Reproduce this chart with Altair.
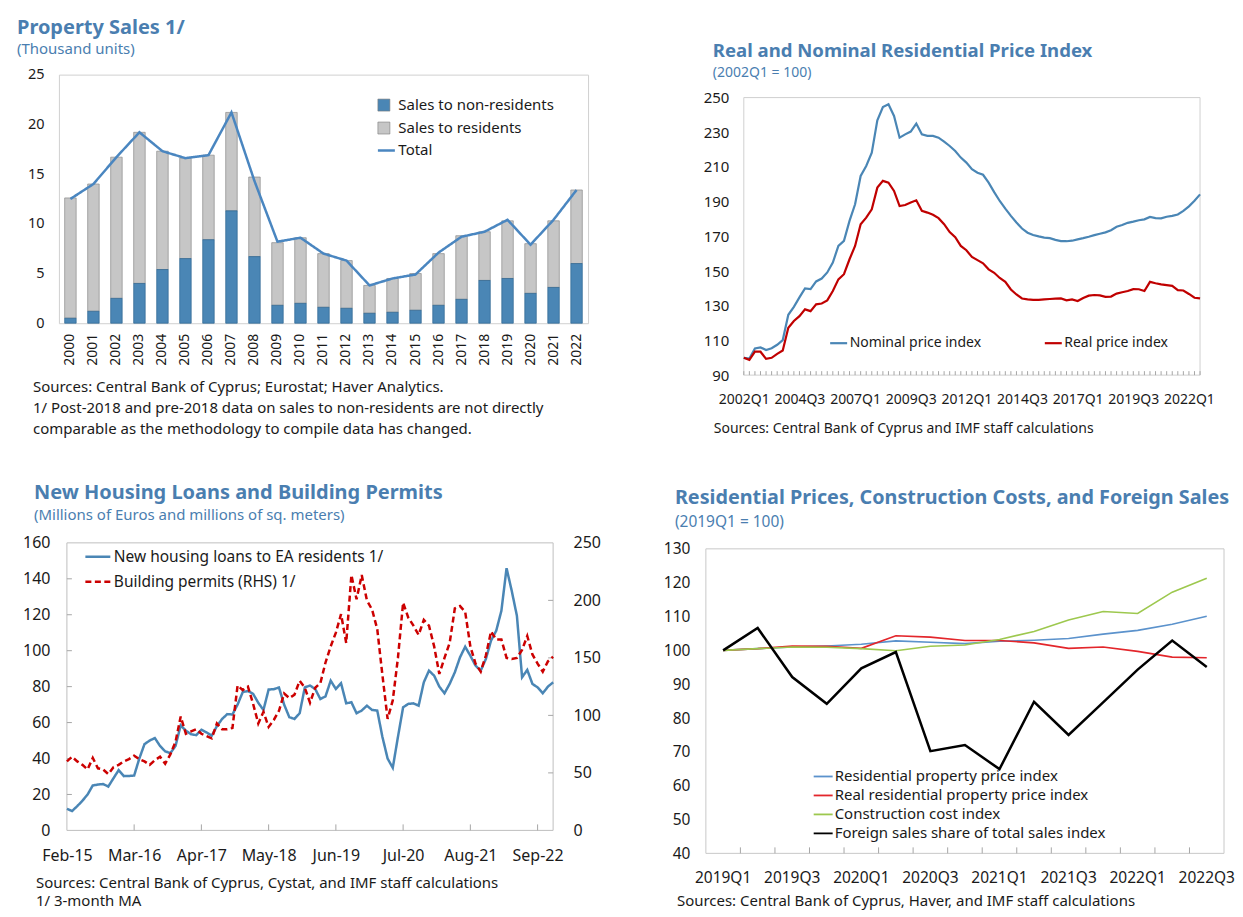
import altair as alt
import pandas as pd

FONT = "Noto Sans"
BLUE_T = "#4a7eb0"
INK = "#1a1a1a"

# ---------------- Panel 1: Property sales ----------------
years = ["2000", "2001", "2002", "2003", "2004", "2005", "2006", "2007", "2008", "2009", "2010",
         "2011", "2012", "2013", "2014", "2015", "2016", "2017", "2018", "2019", "2020", "2021", "2022"]
sales_nonres = [0.5, 1.2, 2.5, 4.0, 5.4, 6.5, 8.4, 11.3, 6.7, 1.8, 2.0, 1.6, 1.5, 1.0, 1.1, 1.3,
                1.8, 2.4, 4.3, 4.5, 3.0, 3.6, 6.0]
sales_res = [12.1, 12.8, 14.2, 15.2, 11.9, 10.1, 8.5, 9.9, 8.0, 6.3, 6.6, 5.4, 4.8, 2.8, 3.4, 3.7,
             5.2, 6.4, 4.9, 5.8, 5.0, 6.7, 7.4]
sales_total = [12.5, 14.0, 16.7, 19.2, 17.3, 16.6, 16.9, 21.2, 14.3, 8.2, 8.6, 7.0, 6.3, 3.8, 4.5,
               4.9, 7.1, 8.7, 9.2, 10.4, 7.9, 10.4, 13.4]

# ---------------- Panel 2: price indices (2002Q1 = 100) ----------------
quarters2 = [f"{y}Q{q}" for y in range(2002, 2023) for q in range(1, 5)][:83]
q2_labels = ["2002Q1", "2004Q3", "2007Q1", "2009Q3", "2012Q1", "2014Q3", "2017Q1", "2019Q3", "2022Q1"]
nominal = [100, 99.6, 105.4, 106, 104.5, 105.5, 107.5, 110.2, 124.8, 129.4,
           134.8, 140, 139.6, 144, 145.7, 149.2, 154.9, 164.5, 167.4, 178.9,
           188.5, 204.8, 210.6, 218.3, 236.9, 244.6, 246.2, 239.4, 226.9, 228.8,
           230.4, 235, 228.8, 227.9, 227.9, 226.9, 224.6, 222.1, 219.2, 215.4,
           212.5, 208.7, 206.7, 205.5, 201, 195.5, 190.4, 186, 181.8, 178,
           174.5, 172.1, 170.8, 170, 169.3, 169, 168, 167.3, 167.2, 167.5,
           168.3, 169, 169.8, 170.7, 171.5, 172.3, 173.5, 175.5, 176.5, 177.8,
           178.5, 179.3, 179.8, 181.2, 180.5, 180.4, 181.3, 181.8, 182.6, 184.7,
           187.3, 190.5, 194.2]
real = [100, 98.8, 103.5, 103.5, 99.4, 100, 102.3, 104.2, 117.3, 121.2,
        124, 127.9, 126.9, 130.8, 131.3, 133.1, 138.5, 145.2, 148.2, 156.8,
        164.5, 177, 180.8, 185.6, 198.1, 202, 201, 196.2, 187.5, 188.1,
        189.5, 190.8, 184.7, 183.7, 182.4, 180.5, 177, 172.5, 169.5, 164.5,
        162, 158.1, 156.3, 154.5, 151, 149, 146, 143.8, 139.4, 136.5,
        134.2, 133.7, 133.4, 133.4, 133.7, 133.9, 134.1, 134.2, 133.1, 133.7,
        132.7, 134.5, 135.8, 136.2, 136, 135.1, 135.3, 137, 137.8, 138.5,
        139.6, 139.5, 138.5, 143.8, 143, 142.3, 141.9, 141.5, 139, 138.8,
        136.8, 134.6, 134.2]

# ---------------- Panel 3: loans and permits (monthly, Feb-15 .. Dec-22) ----------------
_mon = ["Jan", "Feb", "Mar", "Apr", "May", "Jun", "Jul", "Aug", "Sep", "Oct", "Nov", "Dec"]
months3 = []
_y, _m = 2015, 1
for _i in range(95):
    months3.append(f"{_mon[_m]}-{str(_y)[2:]}")
    _m += 1
    if _m == 12:
        _m, _y = 0, _y + 1
m3_labels = ["Feb-15", "Mar-16", "Apr-17", "May-18", "Jun-19", "Jul-20", "Aug-21", "Sep-22"]
loans = [12, 10.8, 13.5, 16.5, 20, 25, 25.5, 25.8, 24.4, 29,
         33.5, 30.2, 30.3, 30.5, 40, 48, 50, 51.4, 47, 44,
         43, 47, 58.5, 55.5, 53.5, 53, 56, 54.5, 52.7, 58,
         62, 64.7, 64.5, 70, 77, 77.5, 76, 71, 67, 78.4,
         78.6, 79.5, 70, 63, 62, 65.2, 79.6, 80.6, 78.7, 73.1,
         74.6, 83.3, 78.7, 81.9, 70.7, 71.3, 65.2, 66.7, 69.4, 67,
         66.7, 52, 40, 34.8, 52, 68.5, 70.4, 70.7, 69.4, 82.4,
         88.9, 86.1, 80, 76.3, 81.5, 88, 96.3, 102.2, 97.2, 91.7,
         88.9, 95.4, 105.6, 111.1, 122.2, 145.9, 133.3, 119.4, 85.2, 89.3,
         81.5, 79.6, 76.3, 80, 82.4]
permits = [60, 64, 60, 57, 53, 63, 54, 53, 49, 55,
           57, 60, 62, 65, 62, 60, 57, 61, 64, 58,
           66, 77, 99, 84, 86, 88, 84, 82, 80, 93,
           88, 88, 89, 126, 122, 125, 110, 93, 103, 90,
           96, 104, 119, 115, 118, 130, 124, 111, 124, 128,
           146, 160, 172, 188, 163, 222, 201, 222, 200, 192,
           175, 135, 97, 113, 150, 198, 185, 178, 170, 183,
           178, 160, 136, 150, 163, 193, 195, 190, 160, 145,
           138, 152, 173, 166, 166, 150, 149, 150, 157, 169,
           153, 145, 138, 147, 151]

# ---------------- Panel 4: prices, costs, foreign sales (2019Q1 = 100) ----------------
quarters4 = ["2019Q1", "2019Q2", "2019Q3", "2019Q4", "2020Q1", "2020Q2", "2020Q3", "2020Q4",
             "2021Q1", "2021Q2", "2021Q3", "2021Q4", "2022Q1", "2022Q2", "2022Q3"]
q4_labels = ["2019Q1", "2019Q3", "2020Q1", "2020Q3", "2021Q1", "2021Q3", "2022Q1", "2022Q3"]
rppi = [100, 100.5, 101, 101.3, 101.8, 102.8, 102.4, 102.0, 102.7, 103.0, 103.5, 104.8, 105.9, 107.7, 110.1]
real_rppi = [100, 100.5, 101.3, 101.2, 100.6, 104.3, 103.9, 102.9, 102.9, 102.2, 100.6, 101.0, 99.7, 98.0, 97.8]
cci = [100, 100.5, 101, 100.9, 100.5, 99.9, 101.2, 101.6, 103.2, 105.6, 109.0, 111.5, 110.9, 117.2, 121.3]
foreign = [100, 106.6, 92.1, 84.2, 94.7, 99.5, 70.2, 72.0, 64.9, 84.8, 75.0, 84.6, 94.3, 102.9, 95.1]


def note(text, x, y, size=15, bold=False, color=INK):
    return alt.Chart(pd.DataFrame({"t": [text]})).mark_text(
        align="left", baseline="alphabetic", font=FONT, fontSize=size,
        fontWeight="bold" if bold else "normal", color=color
    ).encode(text="t:N", x=alt.value(x), y=alt.value(y))


def frame(left, top, right, bottom, w, h):
    # invisible box that fixes each panel's layout extent
    return alt.Chart(pd.DataFrame({"z": [0]})).mark_rect(opacity=0).encode(
        x=alt.value(-left), x2=alt.value(w + right), y=alt.value(-top), y2=alt.value(h + bottom))


def border(x0, x1, y0, y1, color):
    return alt.Chart(pd.DataFrame({"z": [0]})).mark_rect(fill=None, stroke=color, strokeWidth=1).encode(
        x=alt.value(x0), x2=alt.value(x1), y=alt.value(y0), y2=alt.value(y1))


def ax(**kw):
    base = dict(title=None, ticks=False, domain=False, grid=False, labelFont=FONT, labelColor=INK)
    base.update(kw)
    return alt.Axis(**base)


def leg(**kw):
    base = dict(title=None, orient="none", padding=0, labelFont=FONT, labelColor=INK, labelLimit=600)
    base.update(kw)
    return alt.Legend(**base)


NOSTROKE = alt.ViewBackground(stroke=None)

# ---------------- Panel 1 ----------------
W1, H1 = 530, 249
S_NR, S_R = "Sales to non-residents", "Sales to residents"
bars_df = pd.DataFrame({
    "year": years * 2,
    "series": [S_NR] * 23 + [S_R] * 23,
    "lo": [0.0] * 23 + sales_nonres,
    "hi": sales_nonres + [a + b for a, b in zip(sales_nonres, sales_res)],
})
xsc1 = alt.Scale(type="band", paddingInner=0.5, paddingOuter=0.25)
xax1 = ax(labelAngle=-90, labelPadding=10, labelFontSize=14)
ysc1 = alt.Scale(domain=[0, 25], nice=False)
yax1 = ax(values=[0, 5, 10, 15, 20, 25], labelPadding=15, labelFontSize=14.5)
fill1 = alt.Fill("series:N", scale=alt.Scale(domain=[S_NR, S_R], range=["#4a86b5", "#c6c6c6"]),
                 legend=leg(legendX=318, legendY=23, symbolType="square", symbolSize=144,
                            symbolStrokeColor="#7a7a7a", symbolStrokeWidth=0.6,
                            labelFontSize=15, labelOffset=7, rowPadding=7))
b_nr = alt.Chart(bars_df[bars_df.series == S_NR]).mark_bar(stroke="#2d6590", strokeWidth=0.7).encode(
    x=alt.X("year:N", sort=years, scale=xsc1, axis=xax1),
    y=alt.Y("lo:Q", scale=ysc1, axis=yax1), y2=alt.Y2("hi"), fill=fill1)
b_r = alt.Chart(bars_df[bars_df.series == S_R]).mark_bar(stroke="#8a8a8a", strokeWidth=0.7).encode(
    x=alt.X("year:N", sort=years, scale=xsc1, axis=xax1),
    y=alt.Y("lo:Q", scale=ysc1, axis=yax1), y2=alt.Y2("hi"), fill=fill1)
tot_df = pd.DataFrame({"year": years, "v": sales_total, "s": ["Total"] * 23})
line1 = alt.Chart(tot_df).mark_line(color="#4a86c0", strokeWidth=2.5).encode(
    x=alt.X("year:N", sort=years, scale=xsc1, axis=xax1, bandPosition=0.5),
    y=alt.Y("v:Q", scale=ysc1, axis=yax1),
    strokeDash=alt.StrokeDash("s:N", scale=alt.Scale(domain=["Total"], range=[[1, 0]]),
                              legend=leg(legendX=318, legendY=66, symbolType="stroke", symbolSize=289,
                                         symbolStrokeColor="#4a86c0", symbolStrokeWidth=2.5,
                                         labelFontSize=15, labelOffset=2)))
P1 = alt.layer(
    frame(50, 65, 32, 128, W1, H1),
    b_r, b_nr, line1,
    note("Property Sales 1/", -42, -41, 20, True, BLUE_T),
    note("(Thousand units)", -42, -21, 15, False, BLUE_T),
    note("Sources: Central Bank of Cyprus; Eurostat; Haver Analytics.", -26, 318),
    note("1/ Post-2018 and pre-2018 data on sales to non-residents are not directly", -26, 339),
    note("comparable as the methodology to compile data has changed.", -26, 360),
).properties(width=W1, height=H1, view=alt.ViewBackground(stroke="#d0d0d0"))

# ---------------- Panel 2 (group starts 38px left of and 23px above its plot) ----------------
W2, H2 = 495, 301
PX2, PY2 = 38, 23
N2, R2 = "Nominal price index", "Real price index"
df2 = pd.DataFrame({"q": quarters2 * 2, "v": nominal + real, "series": [N2] * 83 + [R2] * 83})
x2 = alt.X("q:N", sort=quarters2, scale=alt.Scale(type="point", padding=0, range=[PX2, W2]),
           axis=ax(values=q2_labels, labelAngle=0, labelPadding=17, labelFontSize=14))
y2 = alt.Y("v:Q", scale=alt.Scale(domain=[90, 250], nice=False, zero=False, range=[H2, PY2]),
           axis=ax(values=list(range(90, 251, 20)), labelPadding=15, labelFontSize=15, offset=-PX2))
lines2 = alt.Chart(df2).mark_line(strokeWidth=2.2).encode(
    x=x2, y=y2,
    color=alt.Color("series:N", scale=alt.Scale(domain=[N2, R2], range=["#4a86b5", "#c00000"]),
                    legend=leg(direction="horizontal", legendX=85 + PX2, legendY=236 + PY2, symbolType="stroke",
                               symbolSize=289, symbolStrokeWidth=2.2, labelFontSize=14, labelOffset=1,
                               columnPadding=59)))
ticks2 = alt.Chart(pd.DataFrame({"q": quarters2})).mark_rule(color="#a6a6a6", strokeWidth=1).encode(
    x=x2, y=alt.value(H2), y2=alt.value(H2 - 4))
P2 = alt.layer(
    frame(85, 65, 35, 76, W2, H2),
    border(PX2, W2, PY2, H2, "#d0d0d0"),
    ticks2, lines2,
    note("Real and Nominal Residential Price Index", 7, -18, 18.6, True, BLUE_T),
    note("(2002Q1 = 100)", 7, 2, 14, False, BLUE_T),
    note("Sources: Central Bank of Cyprus and IMF staff calculations", 8, 359, 14),
).properties(width=W2, height=H2, view=NOSTROKE)

# ---------------- Panel 3 (group starts 8px left of its plot) ----------------
W3, H3 = 495, 288
PX3 = 8
L3, R3 = "New housing loans to EA residents 1/", "Building permits (RHS) 1/"
x3 = alt.X("m:N", sort=months3, scale=alt.Scale(type="point", padding=0, range=[PX3, W3]),
           axis=ax(values=m3_labels, labelAngle=0, labelPadding=17.5, labelFontSize=16))
yL = alt.Y("v:Q", scale=alt.Scale(domain=[0, 160], nice=False),
           axis=ax(values=list(range(0, 161, 20)), orient="left", labelPadding=17, labelFontSize=16, offset=-PX3))
yR = alt.Y("v:Q", scale=alt.Scale(domain=[0, 250], nice=False),
           axis=ax(values=list(range(0, 251, 50)), orient="right", labelPadding=20, labelFontSize=16))
leg3 = leg(legendX=17 + PX3, legendY=0, symbolType="stroke", symbolSize=625, symbolStrokeWidth=2.5,
           labelFontSize=15.5, labelOffset=2, rowPadding=2)
color3 = alt.Color("series:N", scale=alt.Scale(domain=[L3, R3], range=["#4a86b5", "#cc0000"]), legend=leg3)
dash3 = alt.StrokeDash("series:N", scale=alt.Scale(domain=[L3, R3], range=[[1, 0], [6, 3.5]]), legend=leg3)
loans_df = pd.DataFrame({"m": months3, "v": loans, "series": [L3] * 95})
permits_df = pd.DataFrame({"m": months3, "v": permits, "series": [R3] * 95})
blue3 = alt.Chart(loans_df).mark_line(strokeWidth=2.5).encode(x=x3, y=yL, color=color3, strokeDash=dash3)
red3 = alt.Chart(permits_df).mark_line(strokeWidth=2.5).encode(x=x3, y=yR, color=color3, strokeDash=dash3)
ltick = alt.Chart(pd.DataFrame({"v": list(range(20, 141, 20))})).mark_rule(color="#a6a6a6").encode(
    y=yL, x=alt.value(PX3), x2=alt.value(PX3 + 5))
rtick = alt.Chart(pd.DataFrame({"v": list(range(50, 201, 50))})).mark_rule(color="#a6a6a6").encode(
    y=yR, x=alt.value(W3), x2=alt.value(W3 - 5))
btick = alt.Chart(pd.DataFrame({"m": m3_labels[1:]})).mark_rule(color="#a6a6a6").encode(
    x=x3, y=alt.value(H3), y2=alt.value(H3 - 6))
P3 = alt.layer(
    frame(50, 91, 67, 79, W3, H3),
    border(PX3, W3, 0, H3, "#bfbfbf"),
    alt.layer(ltick, btick, blue3),
    alt.layer(rtick, red3),
    note("New Housing Loans and Building Permits", -25, -44, 20, True, BLUE_T),
    note("(Millions of Euros and millions of sq. meters)", -25, -23, 15, False, BLUE_T),
    note("Sources: Central Bank of Cyprus, Cystat, and IMF staff calculations", -23, 346),
    note("1/ 3-month MA", -23, 364),
).resolve_scale(y="independent").properties(width=W3, height=H3, view=NOSTROKE)

# ---------------- Panel 4 (group starts 6px above its plot) ----------------
W4, H4 = 519, 311
PY4 = 6
names4 = ["Residential property price index", "Real residential property price index",
          "Construction cost index", "Foreign sales share of total sales index"]
df4 = pd.DataFrame({"q": quarters4 * 4, "v": rppi + real_rppi + cci + foreign,
                    "series": sum([[n] * 15 for n in names4], [])})
xsc4 = alt.Scale(type="band", paddingInner=0, paddingOuter=0)
xax4 = ax(values=q4_labels, labelAngle=0, labelPadding=17.5, labelFontSize=15.5)
x4 = alt.X("q:N", sort=quarters4, scale=xsc4, axis=xax4, bandPosition=0.5)
x4t = alt.X("q:N", sort=quarters4, scale=xsc4, axis=xax4, bandPosition=0)
y4 = alt.Y("v:Q", scale=alt.Scale(domain=[40, 130], nice=False, zero=False, range=[H4, PY4]),
           axis=ax(values=list(range(40, 131, 10)), labelPadding=16, labelFontSize=15.5))
color4 = alt.Color("series:N", scale=alt.Scale(domain=names4, range=["#5b92cc", "#e3262b", "#9dc84e", "#000000"]),
                   legend=leg(legendX=107, legendY=217.5 + PY4, symbolType="stroke", symbolSize=361,
                              symbolStrokeWidth=1.8, labelFontSize=15, labelOffset=1, rowPadding=0))
thin4 = alt.Chart(df4[df4.series != names4[3]]).mark_line(strokeWidth=1.6).encode(x=x4, y=y4, color=color4)
black4 = alt.Chart(df4[df4.series == names4[3]]).mark_line(strokeWidth=2.5).encode(x=x4, y=y4, color=color4)
ticks4 = alt.Chart(pd.DataFrame({"q": quarters4[1:]})).mark_rule(color="#a6a6a6").encode(
    x=x4t, y=alt.value(H4), y2=alt.value(H4 - 6))
P4 = alt.layer(
    frame(85, 91, 11, 56, W4, H4),
    border(0, W4, PY4, H4, "#c8c8c8"),
    ticks4, thin4, black4,
    note("Residential Prices, Construction Costs, and Foreign Sales", -31, -39, 19.8, True, BLUE_T),
    note("(2019Q1 = 100)", -31, -16, 15.5, False, BLUE_T),
    note("Sources: Central Bank of Cyprus, Haver, and IMF staff calculations", -29, 364),
).properties(width=W4, height=H4, view=NOSTROKE)

RS = dict(color="independent", fill="independent", strokeDash="independent")

chart = alt.concat(P1, P2, P3, P4, columns=2, spacing=0).resolve_scale(**RS).resolve_legend(**RS).properties(
    padding=0
).configure(font=FONT)

chart.save("out.html", embed_options={"renderer": "svg", "actions": False})
